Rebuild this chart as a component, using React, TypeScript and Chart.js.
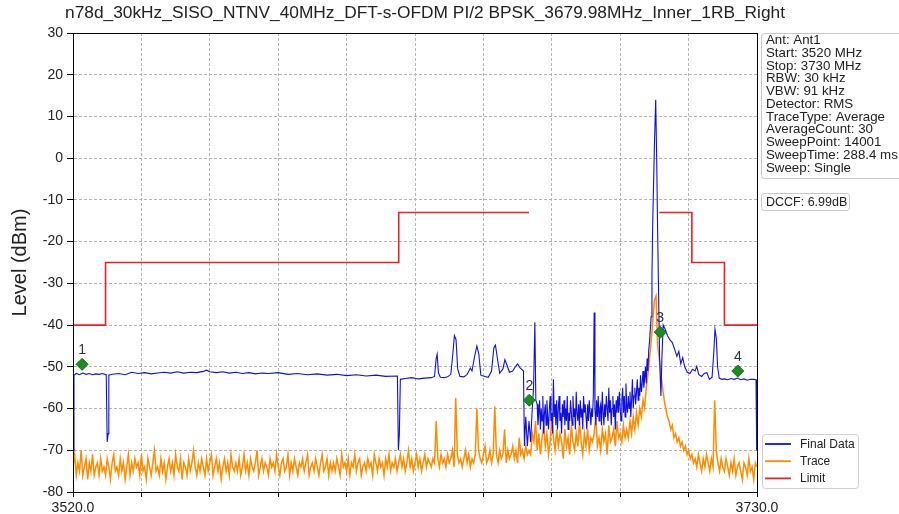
import React, { useEffect, useRef } from 'react';
import { Chart, registerables } from 'chart.js';

Chart.register(...registerables);

const titleText = 'n78d_30kHz_SISO_NTNV_40MHz_DFT-s-OFDM PI/2 BPSK_3679.98MHz_Inner_1RB_Right';
const yAxisTitle = 'Level (dBm)';

const xMin = 3520;
const xMax = 3730;
const yMin = -80;
const yMax = 30;
const xTickValues = [3520, 3541, 3562, 3583, 3604, 3625, 3646, 3667, 3688, 3709, 3730];
const xLabelValues = [3520, 3730];
const yTickValues = [-80, -70, -60, -50, -40, -30, -20, -10, 0, 10, 20, 30];

const infoLines = [
  'Ant: Ant1',
  'Start: 3520 MHz',
  'Stop: 3730 MHz',
  'RBW: 30 kHz',
  'VBW: 91 kHz',
  'Detector: RMS',
  'TraceType: Average',
  'AverageCount: 30',
  'SweepPoint: 14001',
  'SweepTime: 288.4 ms',
  'Sweep: Single',
];
const dccfText = 'DCCF: 6.99dB';
const legendLabels = ['Final Data', 'Trace', 'Limit'];

// Limit line (null = gap)
const limitFreq = [3520, 3530, 3530, 3620, 3620, 3660, 3680, 3700, 3710, 3710, 3720, 3720, 3730];
const limitLevel = [-40, -40, -25, -25, -13, -13, null, -13, -13, -25, -25, -40, -40];

// Markers
const markerFreq = [3522.8, 3660.1, 3700.3, 3724.1];
const markerLevel = [-49.4, -58.0, -41.7, -51.0];
const markerLabel = ['1', '2', '3', '4'];

// Final Data (blue) - left part, frequency / level pairs
const blueLeftFreq = [
  3520.0, 3520.3, 3521, 3522, 3523, 3524, 3525, 3526, 3527, 3528, 3529, 3530.2, 3530.5, 3530.8, 3531.0,
  3532, 3534, 3536, 3538, 3540, 3542, 3544, 3546, 3548, 3550, 3552, 3554, 3556, 3558, 3560, 3561, 3562,
  3564, 3566, 3568, 3570, 3572, 3574, 3576, 3578, 3580, 3583, 3586, 3589, 3592, 3595, 3598, 3601, 3604,
  3607, 3610, 3613, 3616, 3619.6, 3619.9, 3620.2, 3620.5, 3622, 3624, 3626, 3628, 3630, 3631, 3631.5,
  3631.8, 3632.2, 3632.8, 3634, 3635, 3636, 3636.6, 3637.1, 3637.6, 3638.1, 3638.8, 3640, 3641, 3642,
  3642.5, 3643.3, 3644, 3644.6, 3645.2, 3646.5, 3647.5, 3648.5, 3649.2, 3649.7, 3650.3, 3651, 3652,
  3652.6, 3653.2, 3654, 3655, 3655.8, 3656.5, 3657.2, 3658.3, 3658.6, 3659, 3659.5, 3660, 3660.5, 3661,
  3661.4, 3661.8, 3662.1,
];
const blueLeftLevel = [
  -70, -52, -51.6, -51.9, -51.5, -51.8, -51.6, -51.9, -51.7, -51.8, -51.6, -51.9, -68, -66, -52,
  -51.8, -51.6, -51.9, -51.3, -51.6, -51.4, -51.7, -51.5, -51.3, -51.5, -51.2, -51.5, -51.3, -51.4, -51.1, -50.8, -51.2,
  -51.4, -51.2, -51.5, -51.3, -51.6, -51.4, -51.7, -51.5, -51.6, -51.4, -51.8, -51.6, -51.9, -51.7, -52.0, -51.8, -52.1,
  -51.9, -52.2, -52.0, -52.3, -52.2, -70, -66, -53, -52.8, -52.6, -52.9, -52.7, -52.6, -52.3, -48,
  -47, -51.5, -52.5, -52.6, -52.4, -51.8, -47, -42.5, -43.5, -50.5, -52.3, -52.4, -51.8, -50.3,
  -51, -47.5, -45, -47, -52, -52.3, -52.5, -51, -45.5, -44.8, -48, -51.5, -50.5,
  -48.3, -49.5, -51.3, -51, -50, -49.3, -50.2, -51, -69, -62, -69, -63, -68, -60,
  -55, -39.3, -58,
];

// Final Data (blue) - noisy in-band part, sampled every 0.25 MHz from 3662.5 MHz
const blueNoiseStart = 3662.5;
const blueNoiseStep = 0.25;
const blueNoiseLevel = [
  -59, -64, -61, -58, -65, -60, -63, -57, -66, -61, -59, -64, -58, -62, -65, -60, -57, -63, -61, -66,
  -53, -62, -59, -64, -58, -65, -60, -57, -63, -61, -66, -59, -62, -58, -64, -60, -63, -57, -65, -61,
  -63, -58, -61, -64, -57, -62, -60, -65, -56, -61, -63, -59, -64, -58, -62, -60, -65, -57, -61, -59,
  -62, -65, -59, -63, -58, -61, -64, -60, -62, -57, -37, -60, -64, -58, -62, -57, -63, -60, -59, -64,
  -56, -61, -64, -59, -62, -57, -60, -63, -55, -61, -58, -64, -60, -57, -62, -59, -65, -58, -61, -57,
  -61, -56, -60, -63, -58, -55, -61, -57, -62, -54, -59, -61, -57, -60, -56, -62, -58, -53, -60, -57,
  -55, -59, -56, -53, -58, -55, -57, -52, -56, -54, -51, -55, -53, -50, -54, -48, -51, -46, -44, -41,
  -38, -28,
];

// Final Data (blue) - carrier peak and upper side
const blueRightFreq = [
  3698.0, 3698.5, 3698.9, 3699.2, 3699.5, 3699.8, 3700.1, 3700.5, 3700.8, 3701.2, 3701.8, 3702.5, 3703.2,
  3704, 3704.8, 3705.4, 3706, 3706.6, 3707.2, 3707.8, 3708.6, 3709.4, 3710.2, 3711, 3711.5, 3712.1, 3713,
  3713.8, 3714.6, 3715.4, 3716.2, 3716.7, 3717.1, 3717.5, 3717.9, 3718.4, 3719.2, 3720, 3721, 3722, 3723,
  3724, 3725, 3726, 3727, 3728, 3729, 3729.7, 3729.9,
];
const blueRightLevel = [
  -15, 3, 14, 0, -18, -33, -48, -57, -48, -40, -41, -42.5, -43.5,
  -44.2, -46, -47.5, -46.3, -49.3, -47.8, -50, -51.3, -51.6, -50.6, -51, -49.9, -51.8, -52.3,
  -51.6, -51.4, -53, -52.5, -47, -41, -43, -50, -52.7, -53, -52.9, -53.1, -52.8, -53,
  -52.7, -53.1, -52.9, -53.2, -53, -53, -53.1, -70,
];

// Trace (orange), sampled every 0.5 MHz from 3520 MHz
const orangeStart = 3520;
const orangeStep = 0.5;
const orangeLevel = [
  -74, -71, -76, -73, -75, -70, -76, -74, -72, -77, -73, -75, -71, -76, -74, -73, -76, -72, -75, -74,
  -76, -72, -74, -77, -73, -71, -75, -74, -76, -72, -75, -73, -77, -74, -71, -76, -73, -75, -72, -74,
  -73, -76, -71, -75, -74, -77, -72, -74, -76, -73, -70, -75, -74, -76, -72, -75, -73, -77, -74, -72,
  -75, -73, -76, -71, -74, -75, -72, -77, -73, -74, -76, -72, -75, -73, -70, -74, -76, -73, -75, -72,
  -74, -76, -72, -75, -73, -71, -76, -74, -72, -75, -73, -77, -74, -72, -75, -73, -76, -71, -74, -75,
  -73, -75, -72, -76, -74, -71, -75, -73, -76, -72, -74, -75, -73, -70, -76, -74, -72, -75, -73, -74,
  -76, -72, -74, -73, -75, -71, -74, -76, -73, -72, -75, -74, -71, -76, -73, -75, -72, -74, -76, -73,
  -74, -72, -75, -73, -71, -76, -74, -73, -75, -72, -74, -76, -73, -71, -75, -74, -72, -76, -73, -75,
  -73, -75, -72, -74, -76, -71, -74, -73, -75, -72, -76, -73, -74, -71, -75, -73, -72, -76, -74, -73,
  -75, -72, -74, -73, -76, -71, -73, -75, -72, -74, -73, -76, -72, -74, -71, -75, -73, -74, -72, -75,
  -73, -71, -74, -72, -75, -73, -70, -74, -72, -75, -73, -71, -74, -72, -75, -73, -71, -74, -72, -73,
  -74, -72, -73, -63, -72, -74, -71, -73, -72, -74, -71, -73, -72, -70, -74, -57.5, -71, -73, -72, -74,
  -72, -70, -73, -71, -74, -72, -73, -71, -60, -70, -72, -73, -71, -69, -73, -72, -70, -73, -71, -59.5,
  -71, -73, -70, -72, -71, -65, -73, -70, -72, -71, -69, -72, -70, -73, -67, -71, -70, -72, -69, -71,
  -70, -71, -66, -68, -63, -70, -66, -71, -67, -64, -69, -66, -71, -68, -62, -67, -70, -65, -69, -66,
  -68, -72, -65, -69, -67, -71, -64, -68, -70, -66, -69, -63, -68, -71, -66, -69, -65, -70, -67, -68,
  -66, -62, -69, -67, -70, -65, -68, -66, -71, -64, -68, -67, -65, -69, -63, -67, -66, -68, -64, -67,
  -65, -67, -63, -66, -62, -65, -61, -64, -60, -62, -58, -60, -55, -52, -48, -44, -39, -34, -33, -45,
  -48, -52, -55, -58, -60, -62, -63, -65, -64, -67, -66, -68, -67, -69, -68, -70, -69, -71, -70, -72,
  -71, -73, -72, -74, -71, -73, -75, -72, -74, -71, -73, -75, -72, -74, -58, -70, -73, -75, -72, -74,
  -75, -72, -74, -76, -73, -75, -72, -76, -74, -73, -75, -77, -73, -74, -76, -72, -75, -74, -77, -73,
  -74,
];

const COLORS = {
  blue: '#1010dd',
  orange: '#ff8c00',
  red: '#e8202a',
  marker: '#1e8c1e',
  grid: '#b4b4b4',
  text: '#222222',
};

const FONT = '"Liberation Sans", Arial, Helvetica, sans-serif';

const overlayPlugin = {
  id: 'overlay',
  afterDraw(chart: any) {
    const { ctx, chartArea: ca, scales } = chart;
    ctx.save();

    // plot frame
    ctx.strokeStyle = '#000';
    ctx.lineWidth = 1;
    ctx.strokeRect(Math.round(ca.left) + 0.5, Math.round(ca.top) + 0.5, Math.round(ca.right - ca.left), Math.round(ca.bottom - ca.top));

    // title (slightly condensed like the reference)
    ctx.fillStyle = COLORS.text;
    ctx.font = `16px ${FONT}`;
    ctx.textAlign = 'center';
    ctx.textBaseline = 'middle';
    const tw = ctx.measureText(titleText).width;
    ctx.save();
    ctx.translate(425, 14);
    ctx.scale(720 / tw, 1);
    ctx.fillText(titleText, 0, 0);
    ctx.restore();

    // marker labels
    ctx.font = `14px ${FONT}`;
    ctx.fillStyle = '#333';
    ctx.textAlign = 'center';
    ctx.textBaseline = 'middle';
    markerFreq.forEach((f, i) => {
      const px = scales.x.getPixelForValue(f);
      const py = scales.y.getPixelForValue(markerLevel[i]);
      ctx.fillText(markerLabel[i], px, py - 14);
    });

    // info box
    const boxX = 761.5;
    const boxY = 33.5;
    ctx.fillStyle = 'rgba(255,255,255,0.9)';
    ctx.strokeStyle = '#c8c8c8';
    ctx.lineWidth = 1;
    ctx.beginPath();
    ctx.roundRect(boxX, boxY, 160, 145, 3);
    ctx.fill();
    ctx.stroke();
    ctx.fillStyle = COLORS.text;
    ctx.font = `13.3px ${FONT}`;
    ctx.textAlign = 'left';
    ctx.textBaseline = 'middle';
    infoLines.forEach((line, i) => {
      ctx.fillText(line, 766, 40.5 + i * 12.75);
    });

    // DCCF box
    ctx.fillStyle = 'rgba(255,255,255,0.9)';
    ctx.strokeStyle = '#c8c8c8';
    ctx.beginPath();
    ctx.roundRect(761.5, 193.5, 88, 17, 3);
    ctx.fill();
    ctx.stroke();
    ctx.fillStyle = COLORS.text;
    ctx.font = `12.5px ${FONT}`;
    ctx.fillText(dccfText, 766, 202.5);

    // legend
    ctx.fillStyle = 'rgba(255,255,255,0.9)';
    ctx.strokeStyle = '#d0d0d0';
    ctx.beginPath();
    ctx.roundRect(762.5, 434.5, 96, 54, 3);
    ctx.fill();
    ctx.stroke();
    const legendColors = [COLORS.blue, COLORS.orange, COLORS.red];
    ctx.font = `12px ${FONT}`;
    legendLabels.forEach((lab, i) => {
      const y = 444 + i * 17.2;
      ctx.strokeStyle = legendColors[i];
      ctx.lineWidth = 1.8;
      ctx.beginPath();
      ctx.moveTo(765, y);
      ctx.lineTo(791, y);
      ctx.stroke();
      ctx.fillStyle = COLORS.text;
      ctx.fillText(lab, 800, y + 0.5);
    });

    ctx.restore();
  },
};

function buildBlue() {
  const pts: { x: number; y: number }[] = [];
  blueLeftFreq.forEach((f, i) => pts.push({ x: f, y: blueLeftLevel[i] }));
  blueNoiseLevel.forEach((v, i) => pts.push({ x: blueNoiseStart + i * blueNoiseStep, y: v }));
  blueRightFreq.forEach((f, i) => pts.push({ x: f, y: blueRightLevel[i] }));
  return pts;
}

export default function App() {
  const canvasRef = useRef<HTMLCanvasElement>(null);

  useEffect(() => {
    document.body.style.margin = '0';
    const canvas = canvasRef.current!;
    const orangePts = orangeLevel.map((v, i) => ({ x: orangeStart + i * orangeStep, y: v }));
    const bluePts = buildBlue();
    const limitPts = limitFreq.map((f, i) => ({ x: f, y: limitLevel[i] }));
    const markerPts = markerFreq.map((f, i) => ({ x: f, y: markerLevel[i] }));

    const chart = new Chart(canvas, {
      type: 'line',
      data: {
        datasets: [
          {
            label: 'Markers',
            data: markerPts,
            showLine: false,
            pointStyle: 'rectRot',
            pointRadius: 6,
            pointBackgroundColor: COLORS.marker,
            pointBorderColor: '#137013',
            pointBorderWidth: 1,
            order: 0,
          },
          {
            label: 'Limit',
            data: limitPts as any,
            borderColor: COLORS.red,
            borderWidth: 1.6,
            pointRadius: 0,
            spanGaps: false,
            order: 1,
          },
          {
            label: 'Final Data',
            data: bluePts,
            borderColor: COLORS.blue,
            borderWidth: 1.1,
            pointRadius: 0,
            order: 2,
          },
          {
            label: 'Trace',
            data: orangePts,
            borderColor: COLORS.orange,
            borderWidth: 1.5,
            pointRadius: 0,
            order: 3,
          },
        ],
      },
      options: {
        animation: false,
        responsive: false,
        parsing: false as any,
        normalized: true,
        layout: { padding: { left: 0, right: 142, top: 33, bottom: 0 } },
        plugins: {
          legend: { display: false },
          title: { display: false },
          tooltip: { enabled: false },
        },
        scales: {
          x: {
            type: 'linear',
            min: xMin,
            max: xMax,
            afterBuildTicks: (scale: any) => {
              scale.ticks = xTickValues.map((v) => ({ value: v }));
            },
            afterFit: (scale: any) => {
              scale.height = 22;
            },
            ticks: {
              autoSkip: false,
              maxRotation: 0,
              padding: 3,
              color: COLORS.text,
              font: { family: FONT, size: 14 },
              callback: (v: any) => (xLabelValues.includes(Number(v)) ? Number(v).toFixed(1) : ''),
            },
            grid: {
              color: COLORS.grid,
              lineWidth: 1,
              tickColor: '#000',
              tickLength: 5,
              drawTicks: true,
            },
            border: { display: true, color: '#000', width: 1, dash: [3, 2] },
          },
          y: {
            type: 'linear',
            min: yMin,
            max: yMax,
            afterBuildTicks: (scale: any) => {
              scale.ticks = yTickValues.map((v) => ({ value: v }));
            },
            afterFit: (scale: any) => {
              scale.width = 73;
            },
            title: {
              display: true,
              text: yAxisTitle,
              color: COLORS.text,
              font: { family: FONT, size: 20 },
              padding: { top: 8, bottom: 0 },
            },
            ticks: {
              padding: 4,
              color: COLORS.text,
              font: { family: FONT, size: 14 },
              callback: (v: any) => String(v),
            },
            grid: {
              color: COLORS.grid,
              lineWidth: 1,
              tickColor: '#000',
              tickLength: 6,
              drawTicks: true,
            },
            border: { display: true, color: '#000', width: 1, dash: [3, 2] },
          },
        },
      },
      plugins: [overlayPlugin],
    });
    return () => chart.destroy();
  }, []);

  return (
    <div style={{ position: 'absolute', left: 0, top: 0, width: 899, height: 514, background: '#fff', overflow: 'hidden' }}>
      <canvas ref={canvasRef} width={899} height={514} style={{ display: 'block' }} />
    </div>
  );
}
